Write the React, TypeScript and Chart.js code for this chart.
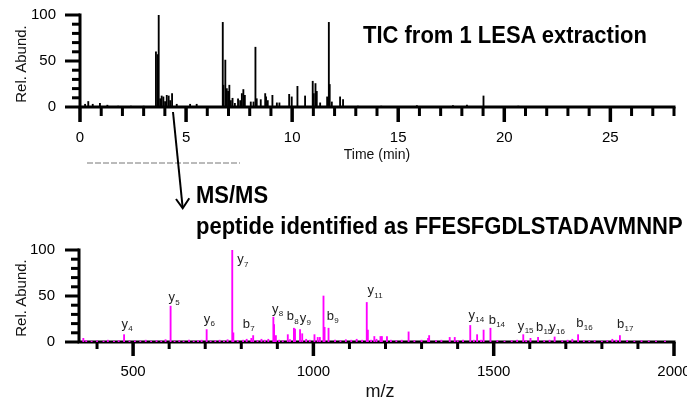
import React, { useEffect, useRef } from 'react';
import { Chart, registerables } from 'chart.js';

Chart.register(...registerables);

const FONT = '"Liberation Sans", Arial, Helvetica, sans-serif';

// ---- TIC (top) ----
const ticTime = [
  0.24, 0.39, 0.6, 0.94, 1.29, 1.8, 2.4, 3.0,
  3.58, 3.66, 3.71, 3.78, 3.85, 3.93, 4.01, 4.09, 4.18, 4.25, 4.34, 4.56, 5.19, 5.5,
  6.73, 6.76, 6.85, 6.92, 6.98, 7.04, 7.11, 7.19, 7.3, 7.45, 7.55, 7.63, 7.7, 7.77,
  8.05, 8.18, 8.27, 8.33, 8.52, 8.73, 8.77, 8.85, 9.07, 9.28, 9.4,
  9.86, 9.98, 10.25, 10.61, 10.97, 11.02, 11.1, 11.16, 11.32, 11.65, 11.73, 11.77, 11.87,
  12.26, 12.4, 13.1, 14.2, 15.88, 17.58, 18.24, 19.02, 20.66,
];
const ticAbund = [
  3, 6, 3, 4, 2, 1, 1, 1,
  60, 57, 100, 9, 12, 11, 6, 12.7, 12, 7, 14.6, 3, 3, 3,
  92, 23.7, 51, 20, 17, 23.7, 7, 9.5, 4, 9, 7, 14.6, 19, 12.7,
  5.5, 5.5, 65, 9, 8, 14.6, 11, 7, 12.7, 4.5, 4.5,
  13.8, 11, 22.5, 12, 28, 14.6, 25.5, 17, 4.5, 11, 92, 24.5, 5.5,
  11, 8, 1, 1, 1.5, 1.5, 2, 12, 1,
];
const timeTickLabels = [0, 5, 10, 15, 20, 25];

// ---- MS/MS spectrum (bottom) ----
const peakMz = [
  362, 475, 604, 704, 775, 778, 828, 833, 856, 889, 891, 896, 929, 946, 949, 963, 969,
  1003, 1012, 1018, 1028, 1031, 1042, 1148, 1151, 1169, 1186, 1190, 1204, 1264, 1318, 1321,
  1378, 1392, 1435, 1454, 1472, 1491, 1582, 1602, 1623, 1669, 1718, 1734, 1829, 1850,
];
const peakAbund = [
  4, 8, 39, 13.5, 100, 10, 4, 7, 3, 27, 19, 7, 8, 15, 14, 13.5, 9,
  8, 5, 5, 50, 16, 15, 43, 13, 6, 6, 6, 6, 11, 4, 7,
  5, 5, 18, 8, 13, 15, 8, 4, 5, 5.5, 3, 8, 3, 7,
];
const noiseMz = [
  370, 385, 400, 418, 430, 447, 460, 490, 505, 520, 535, 550, 565, 578, 590, 615, 628, 640,
  655, 668, 680, 690, 715, 728, 740, 752, 762, 790, 805, 815, 845, 865, 875, 905, 915, 935,
  980, 990, 1060, 1075, 1090, 1105, 1120, 1135, 1160, 1175, 1215, 1230, 1245, 1280, 1300,
  1340, 1355, 1400, 1415, 1445, 1465, 1510, 1530, 1550, 1565, 1590, 1640, 1655, 1690, 1705,
  1750, 1765, 1780, 1800, 1815, 1840, 1870, 1890, 1910, 1930, 1950, 1975,
];
const noiseAbund = [
  1.5, 1, 1.2, 1, 2, 1, 1.5, 1, 1.3, 1, 2, 1, 1.5, 1, 2.5, 1, 1.5, 1,
  2, 1, 1.5, 2, 1, 1.5, 2, 1, 2.5, 1.5, 2, 3, 1.5, 2, 3, 2, 1.5, 2.5,
  3, 2, 2, 1.5, 2.5, 2, 3, 2, 2, 3, 2, 1.5, 2, 1.5, 2,
  1.5, 2, 1.5, 2, 2, 2, 1.5, 1, 1.5, 2, 1.5, 1.5, 2, 1.5, 2,
  1.5, 1, 1.5, 1, 1.5, 2, 1.5, 1, 1.5, 1, 1, 1,
];
const mzTickLabels = [500, 1000, 1500, 2000];
const abundTickLabels = [0, 50, 100];

// fragment ion labels: letter, subscript, label centre (m/z) and baseline level (%)
const ionLetter = ['y', 'y', 'y', 'y', 'b', 'y', 'b', 'y', 'b', 'y', 'y', 'b', 'y', 'b', 'y', 'b', 'b'];
const ionNumber = ['4', '5', '6', '7', '7', '8', '8', '9', '9', '11', '14', '14', '15', '15', '16', '16', '17'];
const ionLabelMz = [477, 607, 705, 798, 814, 894, 936, 971, 1047, 1159, 1439, 1496, 1576, 1627, 1663, 1739, 1852];
const ionLabelLevel = [15.3, 44.4, 20.7, 85.5, 15.3, 31.6, 23.7, 21.8, 24.4, 52, 25.5, 20, 13.5, 12, 12, 16.4, 15.3];

type AxesOpts = {
  xFrom: number; xTo: number; xStep: number; xMajor: number;
  xMinorLen: number; xMajorLen: number;
  yMinorLen: number; yMajorLen: number;
  hook: 'beforeDatasetsDraw' | 'afterDatasetsDraw';
};

const makeAxesPlugin = (o: AxesOpts) => ({
  id: 'axesTicks',
  [o.hook]: (chart: any) => {
    const { ctx, chartArea: a, scales } = chart;
    const x = scales.x;
    const y = scales.y;
    ctx.save();
    ctx.strokeStyle = '#000';
    ctx.lineCap = 'butt';
    ctx.lineWidth = 3;
    ctx.beginPath();
    ctx.moveTo(a.left - 1.5, a.bottom);
    ctx.lineTo(a.right + 1.5, a.bottom);
    ctx.moveTo(a.left, a.top - 1.5);
    ctx.lineTo(a.left, a.bottom);
    ctx.stroke();
    for (let v = o.xFrom; v <= o.xTo + 1e-9; v += o.xStep) {
      const px = x.getPixelForValue(v);
      const major = Math.abs(v % o.xMajor) < 1e-6;
      ctx.lineWidth = major ? 3.5 : 3;
      ctx.beginPath();
      ctx.moveTo(px, a.bottom);
      ctx.lineTo(px, a.bottom + (major ? o.xMajorLen : o.xMinorLen));
      ctx.stroke();
    }
    for (let v = 0; v <= 100; v += 10) {
      const py = y.getPixelForValue(v);
      const major = v % 50 === 0;
      ctx.lineWidth = 3;
      ctx.beginPath();
      ctx.moveTo(a.left, py);
      ctx.lineTo(a.left - (major ? o.yMajorLen : o.yMinorLen), py);
      ctx.stroke();
    }
    ctx.restore();
  },
});

const ionLabelPlugin = {
  id: 'ionLabels',
  afterDatasetsDraw: (chart: any) => {
    const { ctx, scales } = chart;
    ctx.save();
    ctx.fillStyle = '#222';
    ctx.textBaseline = 'alphabetic';
    for (let i = 0; i < ionLetter.length; i++) {
      const px = scales.x.getPixelForValue(ionLabelMz[i]);
      const py = scales.y.getPixelForValue(ionLabelLevel[i]);
      ctx.font = `13px ${FONT}`;
      ctx.textAlign = 'center';
      ctx.fillText(ionLetter[i], px, py);
      const w = ctx.measureText(ionLetter[i]).width;
      ctx.font = `8px ${FONT}`;
      ctx.textAlign = 'left';
      ctx.fillText(ionNumber[i], px + w / 2 + 0.3, py + 3.5);
    }
    ctx.restore();
  },
};

const tickFont = { family: FONT, size: 15 };

// fixed axis boxes: no automatic label padding
const fixX = (h: number) => (s: any) => {
  s.height = h;
  s.paddingLeft = 0;
  s.paddingRight = 0;
  s.paddingTop = 0;
  s.paddingBottom = 0;
};
const fixY = (w: number) => (s: any) => {
  s.width = w;
  s.paddingLeft = 0;
  s.paddingRight = 0;
  s.paddingTop = 0;
  s.paddingBottom = 0;
};

function TicChart() {
  const ref = useRef<HTMLCanvasElement | null>(null);
  useEffect(() => {
    if (!ref.current) return;
    const chart = new Chart(ref.current, {
      type: 'bar',
      data: {
        datasets: [
          {
            data: ticTime.map((t, i) => ({ x: t, y: ticAbund[i] })),
            backgroundColor: '#000',
            borderWidth: 0,
            barThickness: 1.2,
          } as any,
        ],
      },
      options: {
        responsive: false,
        animation: false,
        layout: { padding: { top: 15, right: 13, left: 0, bottom: 0 } },
        plugins: { legend: { display: false }, tooltip: { enabled: false } },
        scales: {
          x: {
            type: 'linear',
            min: 0,
            max: 28,
            offset: false,
            grid: { display: false, drawTicks: false },
            border: { display: false },
            ticks: {
              stepSize: 1,
              autoSkip: false,
              maxRotation: 0,
              padding: 22,
              color: '#000',
              font: tickFont,
              callback: (v: any) => (timeTickLabels.includes(Number(v)) ? String(v) : ''),
            },
            afterFit: fixX(63),
          },
          y: {
            min: 0,
            max: 100,
            grid: { display: false, drawTicks: false },
            border: { display: false },
            ticks: {
              stepSize: 10,
              autoSkip: false,
              padding: 24,
              color: '#000',
              font: tickFont,
              callback: (v: any) => (abundTickLabels.includes(Number(v)) ? String(v) : ''),
            },
            afterFit: fixY(80),
          },
        },
      } as any,
      plugins: [
        makeAxesPlugin({
          xFrom: 0, xTo: 28, xStep: 1, xMajor: 5, xMinorLen: 9, xMajorLen: 15,
          yMinorLen: 8, yMajorLen: 15, hook: 'afterDatasetsDraw',
        }) as any,
      ],
    });
    return () => chart.destroy();
  }, []);
  return (
    <canvas
      ref={ref}
      width={687}
      height={170}
      style={{ position: 'absolute', left: 0, top: 0, width: 687, height: 170 }}
    />
  );
}

function SpectrumChart() {
  const ref = useRef<HTMLCanvasElement | null>(null);
  useEffect(() => {
    if (!ref.current) return;
    const allMz = [...noiseMz, ...peakMz];
    const allAb = [...noiseAbund, ...peakAbund];
    const chart = new Chart(ref.current, {
      type: 'bar',
      data: {
        datasets: [
          {
            data: allMz.map((m, i) => ({ x: m, y: allAb[i] })),
            backgroundColor: '#ff00ff',
            borderWidth: 0,
            barThickness: 1.2,
          } as any,
        ],
      },
      options: {
        responsive: false,
        animation: false,
        layout: { padding: { top: 20, right: 26, left: 0, bottom: 0 } },
        plugins: { legend: { display: false }, tooltip: { enabled: false } },
        scales: {
          x: {
            type: 'linear',
            min: 350,
            max: 2000,
            offset: false,
            grid: { display: false, drawTicks: false },
            border: { display: false },
            ticks: {
              stepSize: 100,
              autoSkip: false,
              maxRotation: 0,
              padding: 21,
              color: '#000',
              font: tickFont,
              callback: (v: any) => (mzTickLabels.includes(Number(v)) ? String(v) : ''),
            },
            afterFit: fixX(60),
          },
          y: {
            min: 0,
            max: 100,
            grid: { display: false, drawTicks: false },
            border: { display: false },
            ticks: {
              stepSize: 10,
              autoSkip: false,
              padding: 24,
              color: '#000',
              font: tickFont,
              callback: (v: any) => (abundTickLabels.includes(Number(v)) ? String(v) : ''),
            },
            afterFit: fixY(79),
          },
        },
      } as any,
      plugins: [
        makeAxesPlugin({
          xFrom: 400, xTo: 2000, xStep: 100, xMajor: 500, xMinorLen: 7, xMajorLen: 14,
          yMinorLen: 8, yMajorLen: 14, hook: 'beforeDatasetsDraw',
        }) as any,
        ionLabelPlugin as any,
      ],
    });
    return () => chart.destroy();
  }, []);
  return (
    <canvas
      ref={ref}
      width={700}
      height={172}
      style={{ position: 'absolute', left: 0, top: 230, width: 700, height: 172 }}
    />
  );
}

export default function App() {
  return (
    <div
      style={{
        position: 'absolute',
        left: 0,
        top: 0,
        width: 687,
        height: 402,
        overflow: 'hidden',
        background: '#fff',
        fontFamily: FONT,
      }}
    >
      <TicChart />
      <SpectrumChart />
      <svg
        width={687}
        height={402}
        style={{ position: 'absolute', left: 0, top: 0, pointerEvents: 'none', overflow: 'visible' }}
      >
        <g fontFamily={FONT} fill="#111">
          <text transform="translate(26,64) rotate(-90)" textAnchor="middle" fontSize={15}>Rel. Abund.</text>
          <text transform="translate(25.5,298) rotate(-90)" textAnchor="middle" fontSize={15}>Rel. Abund.</text>
          <text x={377} y={158.5} textAnchor="middle" fontSize={14}>Time (min)</text>
          <text x={380} y={397} textAnchor="middle" fontSize={18}>m/z</text>
          <text transform="translate(363,43.3) scale(1,1.12)" fontSize={22} fontWeight="bold" fill="#000">TIC from 1 LESA extraction</text>
          <text transform="translate(196,203.3) scale(1,1.12)" fontSize={22} fontWeight="bold" fill="#000">MS/MS</text>
          <text transform="translate(196,234) scale(1,1.12)" fontSize={22} fontWeight="bold" fill="#000">peptide identified as FFESFGDLSTADAVMNNP</text>
        </g>
        <line x1={87} y1={163} x2={240} y2={163} stroke="#777" strokeWidth={1} strokeDasharray="6 2" />
        <line x1={173} y1={112} x2={182.7} y2={208} stroke="#000" strokeWidth={2} />
        <polyline points="176,199 182.7,208.3 189.3,198.3" fill="none" stroke="#000" strokeWidth={2} />
      </svg>
    </div>
  );
}
